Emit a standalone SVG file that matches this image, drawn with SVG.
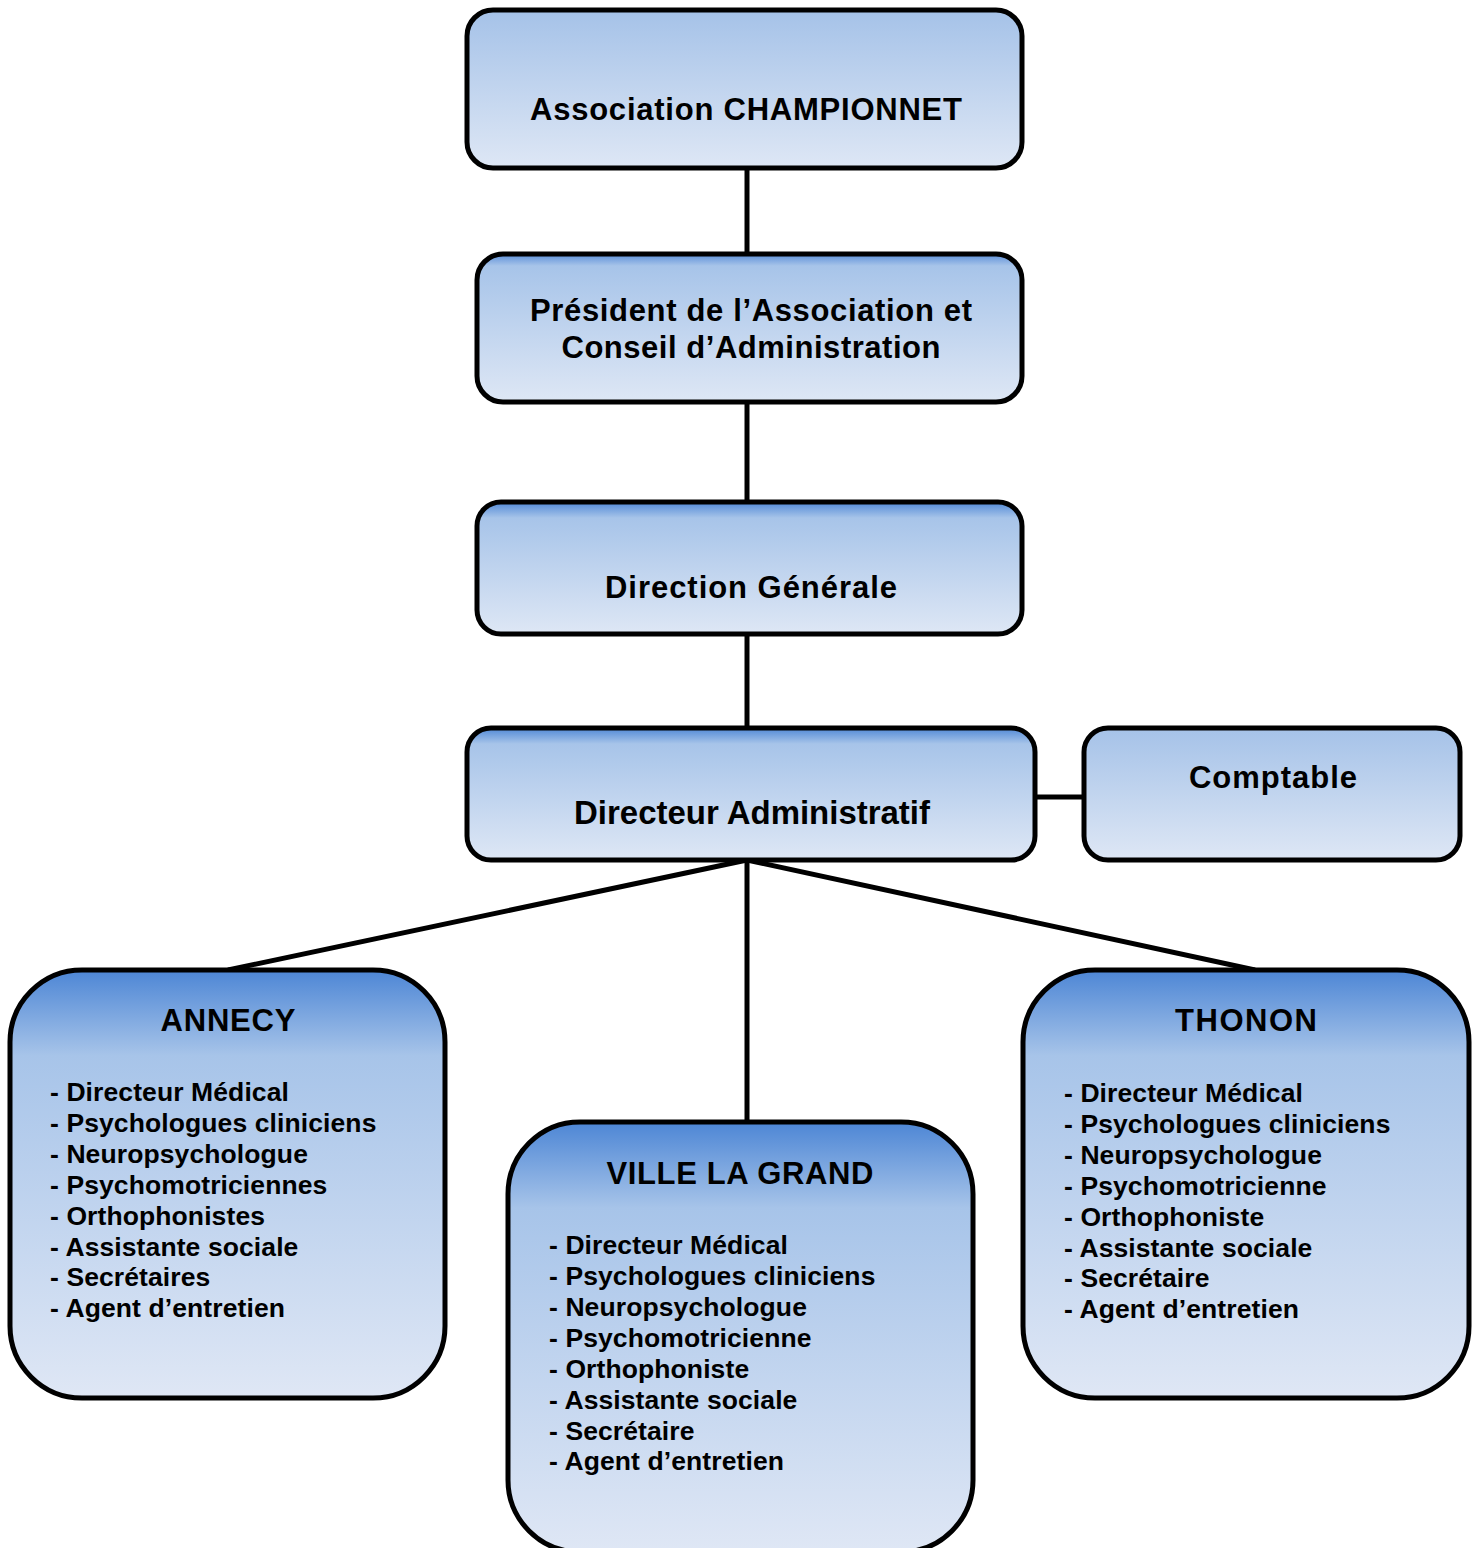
<svg xmlns="http://www.w3.org/2000/svg" width="1477" height="1548" viewBox="0 0 1477 1548">
<style>
.box{stroke:#000;stroke-width:5}
.t{font-family:"Liberation Sans",Arial,sans-serif;font-weight:bold;font-size:31px;fill:#000;text-anchor:middle}
.li{font-family:"Liberation Sans",Arial,sans-serif;font-weight:bold;font-size:26.5px;fill:#000;letter-spacing:0.1px}
.c{stroke:#000;stroke-width:5;fill:none}
</style>
<defs>
<linearGradient id="gLight" x1="0" y1="0" x2="0" y2="1">
<stop offset="0" stop-color="#A5C2E8"/>
<stop offset="1" stop-color="#DEE7F5"/>
</linearGradient>
<linearGradient id="gTop" x1="0" y1="0" x2="0" y2="1">
<stop offset="0" stop-color="#5088D6"/>
<stop offset="0.12" stop-color="#A7C4E9"/>
<stop offset="1" stop-color="#DEE7F5"/>
</linearGradient>
<linearGradient id="gThin" x1="0" y1="0" x2="0" y2="1">
<stop offset="0" stop-color="#5A8ED8"/>
<stop offset="0.08" stop-color="#A7C4E9"/>
<stop offset="1" stop-color="#DEE7F5"/>
</linearGradient>
<linearGradient id="gBig" x1="0" y1="0" x2="0" y2="1">
<stop offset="0" stop-color="#4D86D5"/>
<stop offset="0.2" stop-color="#A7C4E9"/>
<stop offset="1" stop-color="#DFE7F5"/>
</linearGradient>
</defs>

<g id="connectors">
<line class="c" x1="747" y1="168" x2="747" y2="254"/>
<line class="c" x1="747" y1="402" x2="747" y2="502"/>
<line class="c" x1="747" y1="634" x2="747" y2="728"/>
<line class="c" x1="1035" y1="797" x2="1084" y2="797"/>
<line class="c" x1="747" y1="860" x2="228" y2="970"/>
<line class="c" x1="747" y1="860" x2="747" y2="1122"/>
<line class="c" x1="747" y1="860" x2="1255" y2="970"/>
</g>

<g id="association">
<rect class="box" x="467" y="10" width="555" height="158" rx="26" fill="url(#gLight)"/>
<text class="t" x="746" y="120" textLength="432" lengthAdjust="spacing">Association CHAMPIONNET</text>
</g>

<g id="president">
<rect class="box" x="477" y="254" width="545" height="148" rx="26" fill="url(#gThin)"/>
<text class="t" x="751" y="321" textLength="442" lengthAdjust="spacing">Président de l’Association et</text>
<text class="t" x="751" y="358" textLength="379" lengthAdjust="spacing">Conseil d’Administration</text>
</g>

<g id="direction-generale">
<rect class="box" x="477" y="502" width="545" height="132" rx="24" fill="url(#gTop)"/>
<text class="t" x="751" y="598" textLength="292" lengthAdjust="spacing">Direction Générale</text>
</g>

<g id="directeur-administratif">
<rect class="box" x="467" y="728" width="568" height="132" rx="24" fill="url(#gTop)"/>
<text class="t" x="752" y="824" textLength="356" lengthAdjust="spacingAndGlyphs" style="font-size:33px">Directeur Administratif</text>
</g>

<g id="comptable">
<rect class="box" x="1084" y="728" width="376" height="132" rx="24" fill="url(#gLight)"/>
<text class="t" x="1273" y="788" textLength="168" lengthAdjust="spacing">Comptable</text>
</g>

<g id="annecy">
<rect class="box" x="10" y="970" width="435" height="428" rx="72" fill="url(#gBig)"/>
<text class="t" x="228" y="1031" textLength="135" lengthAdjust="spacing">ANNECY</text>
<text class="li" x="50" y="1101">- Directeur Médical</text>
<text class="li" x="50" y="1132">- Psychologues cliniciens</text>
<text class="li" x="50" y="1163">- Neuropsychologue</text>
<text class="li" x="50" y="1194">- Psychomotriciennes</text>
<text class="li" x="50" y="1225">- Orthophonistes</text>
<text class="li" x="50" y="1256">- Assistante sociale</text>
<text class="li" x="50" y="1286">- Secrétaires</text>
<text class="li" x="50" y="1317">- Agent d’entretien</text>
</g>

<g id="ville-la-grand">
<rect class="box" x="508" y="1122" width="465" height="430" rx="72" fill="url(#gBig)"/>
<text class="t" x="740" y="1184" textLength="267" lengthAdjust="spacing">VILLE LA GRAND</text>
<text class="li" x="549" y="1254">- Directeur Médical</text>
<text class="li" x="549" y="1285">- Psychologues cliniciens</text>
<text class="li" x="549" y="1316">- Neuropsychologue</text>
<text class="li" x="549" y="1347">- Psychomotricienne</text>
<text class="li" x="549" y="1378">- Orthophoniste</text>
<text class="li" x="549" y="1409">- Assistante sociale</text>
<text class="li" x="549" y="1440">- Secrétaire</text>
<text class="li" x="549" y="1470">- Agent d’entretien</text>
</g>

<g id="thonon">
<rect class="box" x="1023" y="970" width="446" height="428" rx="72" fill="url(#gBig)"/>
<text class="t" x="1246" y="1031" textLength="142" lengthAdjust="spacing">THONON</text>
<text class="li" x="1064" y="1102">- Directeur Médical</text>
<text class="li" x="1064" y="1133">- Psychologues cliniciens</text>
<text class="li" x="1064" y="1164">- Neuropsychologue</text>
<text class="li" x="1064" y="1195">- Psychomotricienne</text>
<text class="li" x="1064" y="1226">- Orthophoniste</text>
<text class="li" x="1064" y="1257">- Assistante sociale</text>
<text class="li" x="1064" y="1287">- Secrétaire</text>
<text class="li" x="1064" y="1318">- Agent d’entretien</text>
</g>
</svg>
